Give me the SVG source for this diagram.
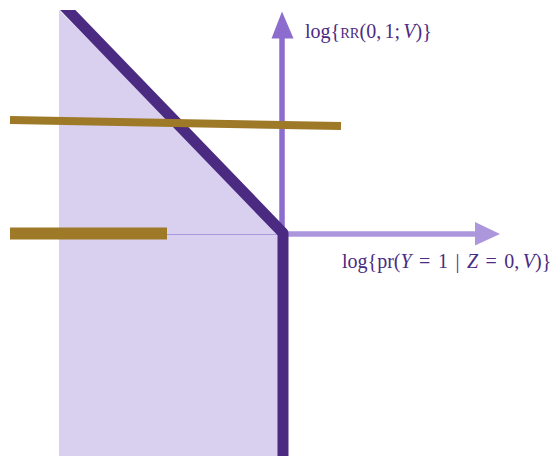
<svg xmlns="http://www.w3.org/2000/svg" width="556" height="456" viewBox="0 0 556 456">
<style>
.lbl{font-family:"Liberation Serif","DejaVu Serif",serif;font-size:20px;fill:#4b2b82}
.it{font-style:italic}
.bar{stroke:#9e7a28;fill:none}
</style>
<defs>
<clipPath id="plot"><rect x="59" y="10" width="497" height="446"/></clipPath>
</defs>
<rect width="556" height="456" fill="#ffffff"/>
<g id="region">
<polygon points="59,10 283,234 283,456 59,456" fill="#d9cfee" clip-path="url(#plot)"/>
</g>
<g id="connectors">
<line x1="167" y1="234.5" x2="282" y2="234.5" stroke="#a898dc" stroke-width="1"/>
<line x1="282" y1="234" x2="477" y2="234" stroke="#ad97dc" stroke-width="5.5"/>
<polygon points="475,222 500,234 475,245.5" fill="#ad97dc"/>
<line x1="282" y1="236" x2="282" y2="36" stroke="#8c6ccd" stroke-width="5.5"/>
<polygon points="271.5,38.5 282,11.5 293.5,38.5" fill="#8c6ccd"/>
<polyline points="60,2 283,233 283,460" fill="none" stroke="#4b2b82" stroke-width="11" stroke-linejoin="round" clip-path="url(#plot)"/>
</g>
<g id="bar-upper">
<line class="bar" x1="10" y1="120" x2="341" y2="126" stroke-width="8"/>
</g>
<g id="bar-lower">
<line class="bar" x1="10" y1="233.5" x2="167" y2="233.5" stroke-width="12"/>
</g>
<g id="label-y">
<text class="lbl" x="305" y="38">log{<tspan font-size="14.5">RR</tspan>(0,<tspan dx="3.3">1;</tspan><tspan dx="3.3" class="it">V</tspan>)}</text>
</g>
<g id="label-x">
<text class="lbl" x="342" y="268">log{pr(<tspan class="it">Y</tspan><tspan dx="7.5">=</tspan><tspan dx="7.5">1</tspan><tspan dx="7.5">|</tspan><tspan dx="7.5" class="it">Z</tspan><tspan dx="7.5">=</tspan><tspan dx="7.5">0,</tspan><tspan dx="3.5" class="it">V</tspan>)}</text>
</g>
</svg>
